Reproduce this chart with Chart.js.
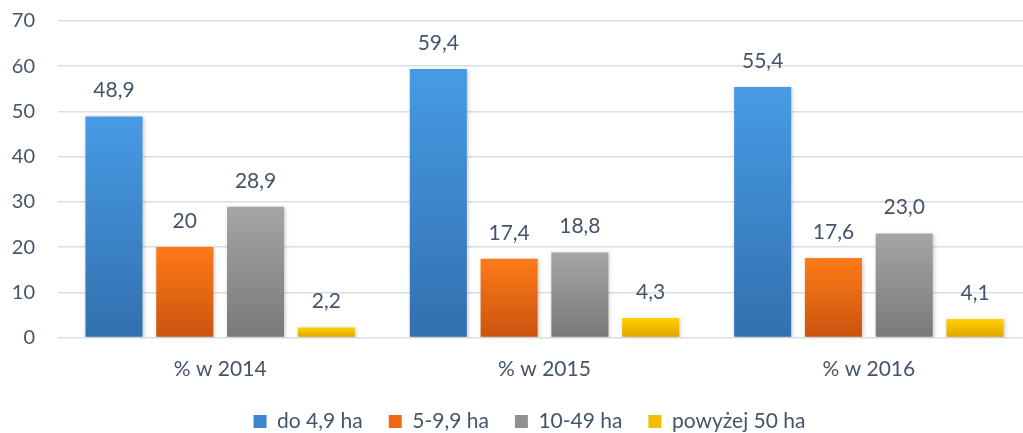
<!DOCTYPE html>
<html>
<head>
<meta charset="utf-8">
<script src="https://cdn.jsdelivr.net/npm/chart.js@4.4.1/dist/chart.umd.min.js"></script>
<style>
    html, body { margin: 0; padding: 0; background: #fff; overflow: hidden; }
    #wrap { width: 1023px; height: 433px; overflow: hidden; }
</style>
</head>
<body>
<div id="wrap"><canvas id="chart" width="1031" height="433"></canvas></div>
<script>
// Data
const categories = ['% w 2014', '% w 2015', '% w 2016'];
const seriesNames = ['do 4,9 ha', '5-9,9 ha', '10-49 ha', 'powyżej 50 ha'];
const upTo49 = [48.9, 59.4, 55.4];
const from5to99 = [20, 17.4, 17.6];
const from10to49 = [28.9, 18.8, 23.0];
const over50 = [2.2, 4.3, 4.1];
const labelsUpTo49 = ['48,9', '59,4', '55,4'];
const labelsFrom5to99 = ['20', '17,4', '17,6'];
const labelsFrom10to49 = ['28,9', '18,8', '23,0'];
const labelsOver50 = ['2,2', '4,3', '4,1'];
const yMin = 0;
const yMax = 70;
const yStep = 10;

// Styles
const TEXT_COLOR = '#44546a';
const GRID_COLOR = '#dadee5';
const FONT = 'Lato';
const gradients = [
    ['#479be5', '#3270ae'],
    ['#ff7a17', '#c9540f'],
    ['#a5a5a5', '#797979'],
    ['#ffd200', '#e0a400']
];
const legendColors = ['#3d86cf', '#ec6813', '#909090', '#f5bd00'];

function barGradient(top, bottom) {
    return (context) => {
        const chart = context.chart;
        const { ctx, chartArea, scales } = chart;
        if (!chartArea || context.dataIndex === undefined) return top;
        const yTop = scales.y.getPixelForValue(context.raw);
        const yBase = scales.y.getPixelForValue(0);
        const g = ctx.createLinearGradient(0, yTop, 0, yBase);
        g.addColorStop(0, top);
        g.addColorStop(1, bottom);
        return g;
    };
}

const seriesValues = [upTo49, from5to99, from10to49, over50];
const seriesLabels = [labelsUpTo49, labelsFrom5to99, labelsFrom10to49, labelsOver50];

const datasets = seriesValues.map((values, i) => ({
    label: seriesNames[i],
    data: values,
    backgroundColor: barGradient(gradients[i][0], gradients[i][1]),
    borderWidth: 0,
    categoryPercentage: 0.873,
    barPercentage: 0.806
}));

// Soft shadow behind bars
const barShadow = {
    id: 'barShadow',
    beforeDatasetsDraw(chart) {
        const ctx = chart.ctx;
        ctx.save();
        ctx.shadowColor = 'rgba(0, 0, 0, 0.22)';
        ctx.shadowBlur = 4;
        ctx.shadowOffsetX = 1;
        ctx.shadowOffsetY = 1;
    },
    afterDatasetsDraw(chart) {
        chart.ctx.restore();
    }
};

// Value text above each bar
const valueText = {
    id: 'valueText',
    afterDraw(chart) {
        const ctx = chart.ctx;
        ctx.save();
        ctx.font = `21px ${FONT}`;
        ctx.fillStyle = TEXT_COLOR;
        ctx.textAlign = 'center';
        ctx.textBaseline = 'middle';
        chart.data.datasets.forEach((ds, i) => {
            chart.getDatasetMeta(i).data.forEach((bar, j) => {
                ctx.fillText(seriesLabels[i][j], bar.x, bar.y - 26);
            });
        });
        ctx.restore();
    }
};

// Fixed legend height, and move it a bit to the right like the original
const legendPlace = {
    id: 'legendPlace',
    beforeInit(chart) {
        const legend = chart.legend;
        if (!legend) return;
        const fit = legend.fit;
        legend.fit = function () {
            fit.call(this);
            this.height = 48;
        };
    },
    afterLayout(chart) {
        if (chart.legend) {
            chart.legend.left += 14;
            chart.legend.right += 14;
        }
    }
};

const ctx = document.getElementById('chart').getContext('2d');
const chart = new Chart(ctx, {
    type: 'bar',
    data: { labels: categories, datasets: datasets },
    options: {
        responsive: false,
        animation: false,
        devicePixelRatio: 1,
        layout: { padding: { top: 21, left: 0, right: 0, bottom: 0 } },
        scales: {
            x: {
                grid: { display: false },
                border: { display: false },
                ticks: {
                    color: TEXT_COLOR,
                    font: { family: FONT, size: 21 },
                    padding: 11
                },
                afterFit(scale) { scale.height = 47.5; }
            },
            y: {
                min: yMin,
                max: yMax,
                grid: { color: GRID_COLOR, lineWidth: 1.5, drawTicks: false },
                border: { display: false },
                ticks: {
                    stepSize: yStep,
                    color: TEXT_COLOR,
                    font: { family: FONT, size: 20 },
                    padding: 23
                },
                afterFit(scale) {
                    scale.width = 58;
                    scale.paddingTop = 0;
                    scale.paddingBottom = 0;
                }
            }
        },
        plugins: {
            tooltip: { enabled: false },
            legend: {
                position: 'bottom',
                labels: {
                    color: TEXT_COLOR,
                    font: { family: FONT, size: 21 },
                    boxWidth: 13,
                    boxHeight: 13,
                    padding: 26,
                    generateLabels(chart) {
                        return chart.data.datasets.map((ds, i) => ({
                            text: ds.label,
                            fillStyle: legendColors[i],
                            strokeStyle: legendColors[i],
                            lineWidth: 0,
                            fontColor: TEXT_COLOR,
                            hidden: false,
                            datasetIndex: i
                        }));
                    }
                }
            }
        }
    },
    plugins: [barShadow, valueText, legendPlace]
});
</script>
</body>
</html>
